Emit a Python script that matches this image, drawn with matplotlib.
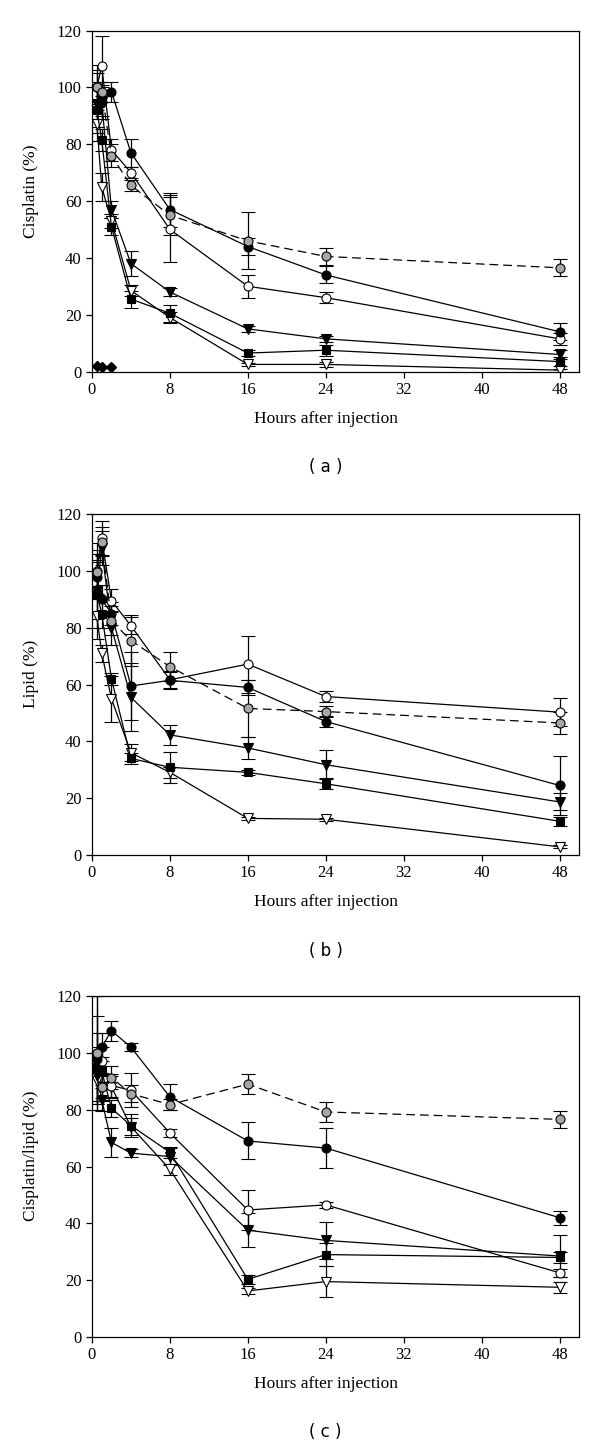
import numpy as np
import matplotlib
matplotlib.use('Agg')
import matplotlib.pyplot as plt

plt.rcParams['font.family'] = 'Liberation Serif'
plt.rcParams['font.size'] = 12

#%% Data
hours = [0.5, 1, 2, 4, 8, 16, 24, 48]
hours_dia = [0.5, 1, 2]

# (a) cisplatin
a_fill = [100, 95, 98.5, 77, 57, 44, 34, 14]
a_fill_err = [8, 6, 3.5, 5, 6, 3, 3, 3]
a_open = [100, 107.5, 78, 70, 50, 30, 26, 11.5]
a_open_err = [6, 10.5, 4, 2, 11.5, 4, 2, 2]
a_gray = [100, 98.5, 76, 65.5, 55, 46, 40.5, 36.5]
a_gray_err = [5, 3.5, 4, 2, 7, 10, 3, 3]
a_tri = [94, 95, 57, 38, 28, 15, 11.5, 6]
a_tri_err = [8, 5, 3, 4.5, 1.5, 1, 1, 1.5]
a_sq = [92, 81.5, 51, 25.5, 20.5, 6.5, 7.5, 3.5]
a_sq_err = [8, 4, 3, 3, 3, 1, 2, 1.5]
a_otri = [87, 65, 53, 28.5, 19, 2.5, 2.5, 0.5]
a_otri_err = [6, 5, 2.5, 2, 2, 0.5, 1, 0.5]
a_dia = [2, 1.5, 1.5]

# (b) lipid
b_fill = [98, 90, 85, 59.5, 61.5, 59, 47, 24.5]
b_fill_err = [8, 5, 4, 12, 3, 2.5, 2, 10.5]
b_open = [100, 111.5, 89.5, 80.7, 61.7, 67.2, 55.8, 50.3]
b_open_err = [10, 6, 4, 3, 3, 10, 2, 5]
b_gray = [99.5, 110.3, 82.5, 75.5, 66.3, 51.6, 50.5, 46.5]
b_gray_err = [8, 5, 5, 9, 5, 10, 2, 4]
b_tri = [93, 108, 80, 55.5, 42.3, 37.7, 31.8, 18.7]
b_tri_err = [10, 6, 6, 12, 3.5, 4, 5, 3]
b_sq = [92, 85, 62, 34, 30.9, 29.1, 25.1, 11.9]
b_sq_err = [12, 5, 2, 2, 5.5, 1, 2, 1.5]
b_otri = [84, 71, 55, 36, 29.1, 12.9, 12.6, 2.9]
b_otri_err = [8, 3, 8, 3, 2, 0.5, 0.5, 0.5]

# (c) cisplatin/lipid
c_fill = [98, 102, 107.8, 102, 84.5, 69, 66.5, 42]
c_fill_err = [15, 5, 3.5, 1.5, 4.5, 6.5, 7, 2.5]
c_open = [100, 97, 88.5, 86.8, 71.8, 44.7, 46.5, 22.6]
c_open_err = [20, 5, 4, 6, 1.5, 7, 1, 1.5]
c_gray = [100, 88, 91.3, 85.6, 81.8, 89, 79.2, 76.6]
c_gray_err = [20, 4, 4, 3, 2, 3.5, 3.5, 3]
c_tri = [92, 83.5, 68.5, 64.7, 63.5, 37.6, 34, 28.5]
c_tri_err = [10, 4, 5, 1.5, 3, 6, 6.5, 7.5]
c_sq = [95, 93.6, 80.5, 74.4, 65, 20.3, 29, 28]
c_sq_err = [12, 5, 3, 4, 2, 1.5, 4, 2]
c_otri = [90, 88, 88, 74, 59, 16.2, 19.5, 17.5]
c_otri_err = [8, 5, 4, 3, 2, 1, 5.5, 2]

GRAY = '#a6a6a6'


def draw_series(ax, y, err, marker, face, ms):
    ax.errorbar(hours, y, yerr=err, fmt=marker, ls='-', color='black',
                mfc=face, mec='black', mew=0.8, ms=ms, lw=0.9,
                elinewidth=0.9, capsize=5, capthick=0.9)


def draw_panel(ax, fill, fill_err, opn, opn_err, gray, gray_err,
               tri, tri_err, sq, sq_err, otri, otri_err, ylabel, tag):
    draw_series(ax, otri, otri_err, 'v', 'white', 7)
    draw_series(ax, sq, sq_err, 's', 'black', 6)
    draw_series(ax, tri, tri_err, 'v', 'black', 7)
    draw_series(ax, opn, opn_err, 'o', 'white', 6.5)
    draw_series(ax, fill, fill_err, 'o', 'black', 6.5)
    ax.errorbar(hours, gray, yerr=gray_err, fmt='o', color='black',
                mfc=GRAY, mec='black', mew=0.8, ms=6.5, lw=0.9,
                elinewidth=0.9, capsize=5, capthick=0.9, ls=(0, (7, 4)))
    ax.set_xlim(0, 50)
    ax.set_ylim(0, 120)
    ax.set_xticks([0, 8, 16, 24, 32, 40, 48])
    ax.set_yticks([0, 20, 40, 60, 80, 100, 120])
    ax.tick_params(direction='out', length=4, width=0.9, labelsize=12)
    for s in ax.spines.values():
        s.set_linewidth(0.9)
    ax.set_xlabel('Hours after injection', fontsize=12.5)
    ax.xaxis.set_label_coords(0.4795, -0.115)
    ax.set_ylabel(ylabel, fontsize=12.5)
    ax.yaxis.set_label_coords(-0.108, 0.53)
    ax.text(0.4795, -0.28, '( ' + tag + ' )', transform=ax.transAxes,
            ha='center', va='center', fontsize=12, family='DejaVu Sans')


fig = plt.figure(figsize=(6, 14.49), dpi=100)

ax1 = fig.add_axes([0.1533, 0.7436, 0.8117, 0.2353])
draw_panel(ax1, a_fill, a_fill_err, a_open, a_open_err, a_gray, a_gray_err,
           a_tri, a_tri_err, a_sq, a_sq_err, a_otri, a_otri_err,
           'Cisplatin (%)', 'a')
ax1.plot(hours_dia, a_dia, marker='D', color='black', ms=5.5, lw=0.9,
         clip_on=False)

ax2 = fig.add_axes([0.1533, 0.4099, 0.8117, 0.2353])
draw_panel(ax2, b_fill, b_fill_err, b_open, b_open_err, b_gray, b_gray_err,
           b_tri, b_tri_err, b_sq, b_sq_err, b_otri, b_otri_err,
           'Lipid (%)', 'b')

ax3 = fig.add_axes([0.1533, 0.0773, 0.8117, 0.2353])
draw_panel(ax3, c_fill, c_fill_err, c_open, c_open_err, c_gray, c_gray_err,
           c_tri, c_tri_err, c_sq, c_sq_err, c_otri, c_otri_err,
           'Cisplatin/lipid (%)', 'c')

fig.savefig('out.png', dpi=100)
